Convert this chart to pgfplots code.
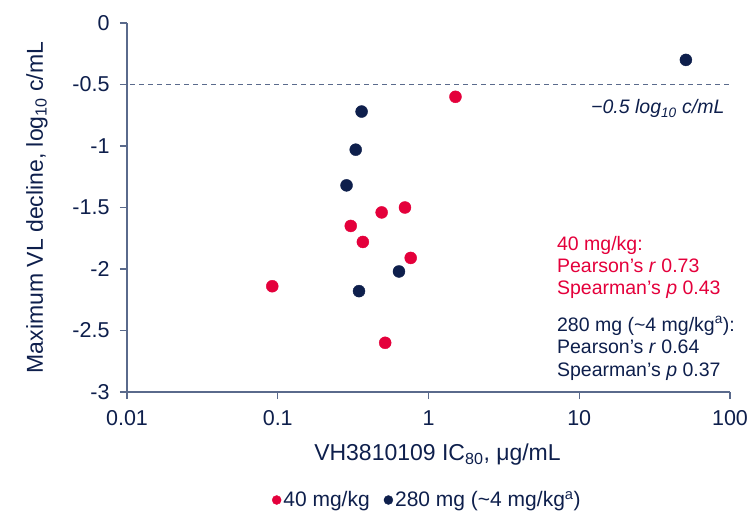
\documentclass[border=0pt]{standalone}
\usepackage{fontspec}
\setmainfont{Liberation Sans}
\usepackage{pgfplots}
\pgfplotsset{compat=1.18}
\definecolor{myred}{HTML}{E4003B}
\definecolor{mynavy}{HTML}{0E1F4C}
\definecolor{axgray}{HTML}{5A6A8C}
\begin{document}
\begin{tikzpicture}
\useasboundingbox (0,0) rectangle (751bp,511bp);
\begin{axis}[
  at={(127bp,119bp)}, anchor=south west,
  scale only axis, width=603bp, height=369bp,
  xmode=log, log basis x=10,
  xmin=0.01, xmax=100, ymin=-3, ymax=0,
  xtick={0.01,0.1,1,10,100},
  xticklabels={0.01,0.1,1,10,100},
  ytick={-3,-2.5,-2,-1.5,-1,-0.5,0},
  yticklabels={-3,-2.5,-2,-1.5,-1,-0.5,0},
  xminorticks=false,
  axis x line*=bottom, axis y line*=left,
  axis line style={axgray, line width=1.4bp, -},
  tick style={axgray, line width=1.4bp},
  tick align=outside, major tick length=7bp,
  every tick label/.append style={font=\fontsize{21.5bp}{24bp}\selectfont, text=mynavy},
  yticklabel style={xshift=-7bp},
  xticklabel style={yshift=-8bp},
  every axis x label/.style={at={(axis description cs:0.5149,-0.1707)}, anchor=center, font=\fontsize{23bp}{26bp}\selectfont, text=mynavy},
  every axis y label/.style={at={(axis description cs:-0.1493,0.5)}, rotate=90, anchor=center, font=\fontsize{23bp}{26bp}\selectfont, text=mynavy},
  xlabel={VH3810109 IC\textsubscript{80}, μg/mL},
  ylabel={Maximum VL decline, log\textsubscript{10} c/mL},
  clip=false,
  legend columns=2,
  legend style={at={(0.498,-0.2927)}, anchor=center, draw=none, fill=none,
    font=\fontsize{21bp}{24bp}\selectfont, text=mynavy,
    /tikz/every even column/.append style={column sep=12bp}},
]
\addplot[axgray, line width=1.6bp, dash pattern=on 5bp off 4bp, forget plot] coordinates {(0.0105,-0.5) (100,-0.5)};
\addplot[only marks, mark=*, mark size=6bp, color=myred, mark options={draw=none, fill=myred},
  legend image code/.code={\fill[myred] (0bp,0bp) circle (4.5bp);}] coordinates {
  (1.51,-0.60)
  (0.698,-1.50)
  (0.489,-1.54)
  (0.305,-1.65)
  (0.367,-1.78)
  (0.762,-1.91)
  (0.092,-2.14)
  (0.516,-2.60)
};
\addlegendentry{\textcolor{mynavy}{40 mg/kg}}
\addplot[only marks, mark=*, mark size=6bp, color=mynavy, mark options={draw=none, fill=mynavy},
  legend image code/.code={\fill[mynavy] (0bp,0bp) circle (4.5bp);}] coordinates {
  (0.36,-0.72)
  (0.329,-1.03)
  (0.286,-1.32)
  (0.637,-2.02)
  (0.346,-2.18)
  (51,-0.30)
};
\addlegendentry{280 mg (\textasciitilde4 mg/kg\textsuperscript{a})}
\node[anchor=base east, font=\fontsize{19.5bp}{22bp}\selectfont\itshape, text=mynavy] at (rel axis cs:0.9967,0.7534) {−0.5 log\textsubscript{10} c/mL};
\begin{scope}[every node/.style={anchor=base west, font=\fontsize{19.5bp}{22bp}\selectfont, inner sep=0pt}]
\node[text=myred] at (rel axis cs:0.713,0.3848) {40 mg/kg:};
\node[text=myred] at (rel axis cs:0.713,0.3238) {Pearson’s \textit{r} 0.73};
\node[text=myred] at (rel axis cs:0.713,0.2629) {Spearman’s \textit{p} 0.43};
\node[text=mynavy] at (rel axis cs:0.713,0.1640) {280 mg (\textasciitilde4 mg/kg\textsuperscript{a}):};
\node[text=mynavy] at (rel axis cs:0.713,0.1030) {Pearson’s \textit{r} 0.64};
\node[text=mynavy] at (rel axis cs:0.713,0.0420) {Spearman’s \textit{p} 0.37};
\end{scope}
\end{axis}
\end{tikzpicture}
\end{document}
